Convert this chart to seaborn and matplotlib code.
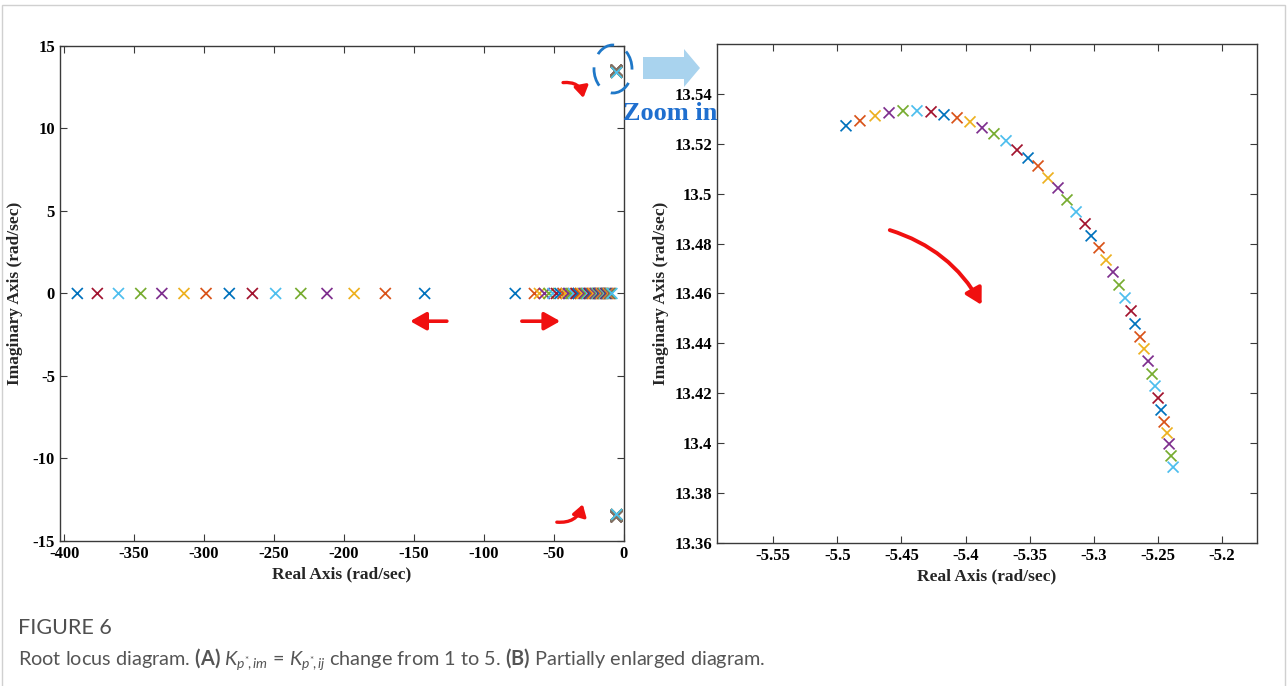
import numpy as np
import pandas as pd
import matplotlib
matplotlib.use('Agg')
import matplotlib.pyplot as plt
import matplotlib.patches as mpatches
import seaborn as sns

# ---- data (K = 1.0, 1.1, ... 5.0) ----
# real pole moving left (only the part inside the -400 window is visible)
far_re = [-142.4, -170.5, -192.8, -212.2, -230.9, -248.9, -265.5, -282.0,
          -298.6, -314.4, -330.2, -345.3, -361.2, -376.3, -390.6]

# real pole moving right towards the origin
near_re = [-77.7, -64.0, -60.4, -56.8, -53.6, -50.7, -48.2, -45.7, -43.5,
           -41.4, -39.6, -37.8, -36.0, -34.2, -32.7, -31.3, -29.9, -28.4,
           -27.0, -25.9, -24.8, -23.7, -22.7, -21.6, -20.5, -19.4, -18.7,
           -18.0, -17.3, -16.5, -15.8, -15.1, -14.4, -13.7, -12.9, -12.2,
           -11.5, -10.8, -10.1, -9.4, -8.6]

# complex pole pair (upper branch shown in the zoom panel)
cplx_re = [-5.4933, -5.4824, -5.4706, -5.4597, -5.4488, -5.4379, -5.4269,
           -5.4168, -5.4066, -5.3965, -5.3871, -5.3778, -5.3684, -5.3598,
           -5.3512, -5.3434, -5.3356, -5.3278, -5.3208, -5.3137, -5.3067,
           -5.3020, -5.2958, -5.2903, -5.2849, -5.2802, -5.2755, -5.2708,
           -5.2677, -5.2638, -5.2607, -5.2575, -5.2544, -5.2521, -5.2497,
           -5.2474, -5.2450, -5.2427, -5.2411, -5.2396, -5.2380]
cplx_im = [13.5272, 13.5292, 13.5312, 13.5324, 13.5332, 13.5332, 13.5328,
           13.5316, 13.5304, 13.5288, 13.5264, 13.5240, 13.5212, 13.5175,
           13.5143, 13.5111, 13.5063, 13.5023, 13.4975, 13.4927, 13.4879,
           13.4831, 13.4783, 13.4734, 13.4686, 13.4634, 13.4582, 13.4530,
           13.4478, 13.4426, 13.4378, 13.4329, 13.4277, 13.4229, 13.4181,
           13.4133, 13.4085, 13.4041, 13.3997, 13.3949, 13.3904]

left_xticks = [-400, -350, -300, -250, -200, -150, -100, -50, 0]
left_yticks = [-15, -10, -5, 0, 5, 10, 15]
right_xticks = [-5.55, -5.5, -5.45, -5.4, -5.35, -5.3, -5.25, -5.2]
right_xlabels = ['-5.55', '-5.5', '-5.45', '-5.4', '-5.35', '-5.3', '-5.25', '-5.2']
right_yticks = [13.36, 13.38, 13.40, 13.42, 13.44, 13.46, 13.48, 13.50, 13.52, 13.54]
right_ylabels = ['13.36', '13.38', '13.4', '13.42', '13.44', '13.46', '13.48',
                 '13.5', '13.52', '13.54']

# MATLAB default colour order
matlab_colors = ['#0072BD', '#D95319', '#EDB120', '#7E2F8E',
                 '#77AC30', '#4DBEEE', '#A2142F']

sns.set_theme(style='white')
plt.rcParams['font.family'] = ['Liberation Serif', 'DejaVu Serif']
plt.rcParams['axes.unicode_minus'] = False
plt.rcParams['mathtext.fontset'] = 'custom'
plt.rcParams['mathtext.rm'] = 'Lato'
plt.rcParams['mathtext.it'] = 'Lato:italic'
plt.rcParams['mathtext.bf'] = 'Lato:bold'


def pole_frame(re, im):
    df = pd.DataFrame({'re': re, 'im': im})
    df['c'] = np.arange(len(df)) % 7
    return df


def draw_poles(ax, df):
    sns.scatterplot(data=df, x='re', y='im', hue='c',
                    palette=dict(enumerate(matlab_colors)),
                    marker='x', s=62, linewidth=1.25, legend=False, ax=ax,
                    zorder=3)


def style_axes(ax):
    for sp in ax.spines.values():
        sp.set_color('#3a3a3a')
        sp.set_linewidth(1.0)
    ax.tick_params(direction='in', length=5, width=0.8, colors='#3a3a3a',
                   labelcolor='black', top=True, right=True,
                   labelsize=12, bottom=True, left=True)
    for lab in ax.get_xticklabels() + ax.get_yticklabels():
        lab.set_fontweight('bold')
    ax.set_xlabel('Real Axis (rad/sec)', fontsize=12.5, fontweight='bold',
                  labelpad=3)


fig = plt.figure(figsize=(12.87, 6.86), dpi=100)
ax1 = fig.add_axes([0.0466, 0.2114, 0.4382, 0.7216])
ax2 = fig.add_axes([0.5571, 0.2085, 0.4196, 0.7274])

# ---- (A) full root locus ----
draw_poles(ax1, pole_frame(far_re, [0] * len(far_re)))
draw_poles(ax1, pole_frame(near_re, [0] * len(near_re)))
draw_poles(ax1, pole_frame(cplx_re, cplx_im))
draw_poles(ax1, pole_frame(cplx_re, [-v for v in cplx_im]))
ax1.set_xlim(-403, 0)
ax1.set_ylim(-15, 15)
ax1.set_xticks(left_xticks)
ax1.set_yticks(left_yticks)
style_axes(ax1)
ax1.set_ylabel('Imaginary Axis (rad/sec)', fontsize=12.5, fontweight='bold',
               labelpad=7)

red_arrow = dict(arrowstyle='-|>,head_length=0.8,head_width=0.45',
                 color='#f01010', lw=2.6, shrinkA=0, shrinkB=0)
small_arrow = dict(arrowstyle='-|>,head_length=0.55,head_width=0.35',
                   color='#f01010', lw=2.4, shrinkA=0, shrinkB=0)
ax1.annotate('', xy=(0.928, 0.895), xytext=(0.892, 0.926),
             xycoords='axes fraction',
             arrowprops=dict(small_arrow, connectionstyle='arc3,rad=-0.45'))
ax1.annotate('', xy=(0.621, 0.444), xytext=(0.686, 0.444),
             xycoords='axes fraction', arrowprops=red_arrow)
ax1.annotate('', xy=(0.887, 0.444), xytext=(0.819, 0.444),
             xycoords='axes fraction', arrowprops=red_arrow)
ax1.annotate('', xy=(0.927, 0.074), xytext=(0.881, 0.038),
             xycoords='axes fraction',
             arrowprops=dict(small_arrow, connectionstyle='arc3,rad=0.4'))

# ---- (B) zoom of the complex pole ----
draw_poles(ax2, pole_frame(cplx_re, cplx_im))
ax2.set_xlim(-5.594, -5.1725)
ax2.set_ylim(13.36, 13.56)
ax2.set_xticks(right_xticks)
ax2.set_xticklabels(right_xlabels)
ax2.set_yticks(right_yticks)
ax2.set_yticklabels(right_ylabels)
style_axes(ax2)
ax2.set_ylabel('Imaginary Axis (rad/sec)', fontsize=12.5, fontweight='bold',
               labelpad=4)
ax2.annotate('', xy=(0.490, 0.477), xytext=(0.320, 0.627),
             xycoords='axes fraction',
             arrowprops=dict(red_arrow, lw=2.8,
                             connectionstyle='arc3,rad=-0.2'))

# ---- zoom marker: dashed ring, block arrow and label ----
ring = mpatches.Ellipse((613 / 1287, 1 - 69 / 686), 38 / 1287, 48 / 686,
                        transform=fig.transFigure, fill=False,
                        edgecolor='#1f78c8', lw=2.0, linestyle=(0, (7, 5)),
                        zorder=10)
fig.patches.append(ring)
block = mpatches.FancyArrow(643 / 1287, 1 - 68 / 686, 57 / 1287, 0,
                            width=22 / 686, head_width=38 / 686,
                            head_length=16 / 1287, length_includes_head=True,
                            transform=fig.transFigure, color='#a9d3ee',
                            lw=0, zorder=10)
fig.patches.append(block)
fig.text(670 / 1287, 1 - 113 / 686, 'Zoom in', ha='center', va='center',
         fontsize=19, fontweight='bold', color='#1f6fcf', zorder=11)

# ---- caption and page frame ----
frame = mpatches.Rectangle((2 / 1287, -0.05), 1283 / 1287, 1.05 - 5 / 686,
                           transform=fig.transFigure, fill=False,
                           edgecolor='#d0d0d0', lw=1.0)
fig.patches.append(frame)
fig.text(18 / 1287, 1 - 628 / 686, 'FIGURE 6', ha='left', va='center',
         fontsize=15.5, family='Lato', color='#505050')
fig.text(18 / 1287, 1 - 659 / 686,
         r'Root locus diagram. $\mathbf{(A)}$ $K_{p^{*}\!,im}$ = $K_{p^{*}\!,ij}$'
         r' change from 1 to 5. $\mathbf{(B)}$ Partially enlarged diagram.',
         ha='left', va='center', fontsize=14.3, family='Lato',
         color='#555555')

fig.savefig('out.png', dpi=100)
